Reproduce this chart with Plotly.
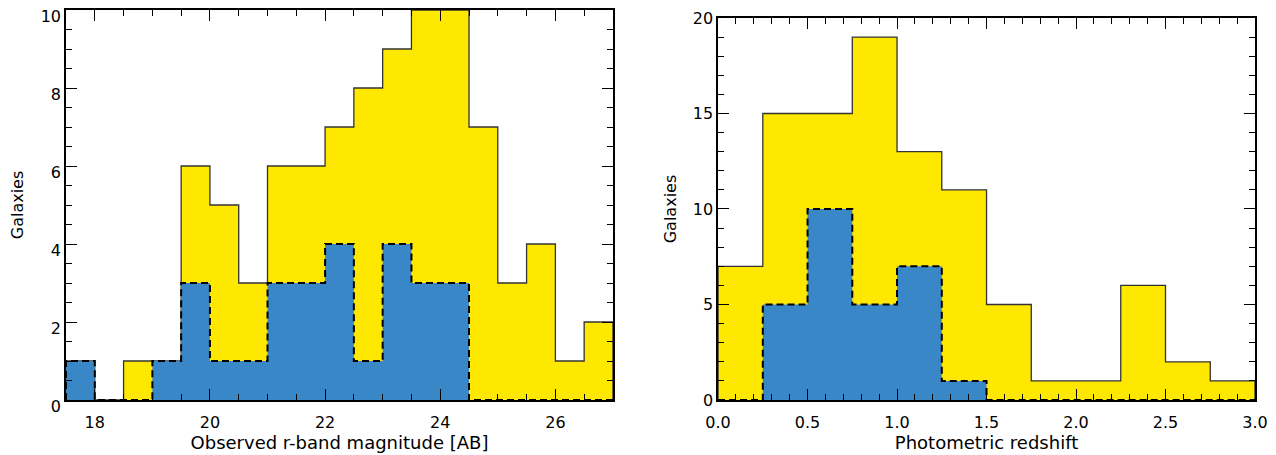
import plotly.graph_objects as go
from plotly.subplots import make_subplots

# r-band magnitude histogram (bin width 0.5, from 17.5 to 27)
mag_edges = [17.5 + 0.5 * i for i in range(20)]
mag_all = [1, 0, 1, 1, 6, 5, 3, 6, 6, 7, 8, 9, 10, 10, 7, 3, 4, 1, 2]
mag_sub = [1, 0, 0, 1, 3, 1, 1, 3, 3, 4, 1, 4, 3, 3, 0, 0, 0, 0, 0]

# photometric redshift histogram (bin width 0.25, from 0 to 3)
z_edges = [0.25 * i for i in range(13)]
z_all = [7, 15, 15, 19, 13, 11, 5, 1, 1, 6, 2, 1]
z_sub = [0, 5, 10, 5, 7, 1, 0, 0, 0, 0, 0, 0]

YELLOW = "#FFE800"
BLUE = "#3A87C8"
FONT = "DejaVu Sans"


def step(edges, counts):
    # outline of a histogram drawn with hv steps, closed down to zero at both ends
    xs = [edges[0]] + list(edges)
    ys = [0] + list(counts) + [0]
    return xs, ys


fig = make_subplots(rows=1, cols=2, horizontal_spacing=0.0885)

for col, edges, tot, sub in [(1, mag_edges, mag_all, mag_sub), (2, z_edges, z_all, z_sub)]:
    x, y = step(edges, tot)
    fig.add_trace(go.Scatter(x=x, y=y, mode="lines", line_shape="hv", fill="tozeroy",
                             fillcolor=YELLOW, line=dict(color="#333333", width=1.3),
                             showlegend=False, hoverinfo="skip"), row=1, col=col)
    x, y = step(edges, sub)
    fig.add_trace(go.Scatter(x=x, y=y, mode="lines", line_shape="hv", fill="tozeroy",
                             fillcolor=BLUE, line=dict(color="black", width=2, dash="7px,4px"),
                             showlegend=False, hoverinfo="skip"), row=1, col=col)

axis_style = dict(showgrid=False, zeroline=False, showline=True, linecolor="black", linewidth=1.5,
                  mirror="allticks", ticks="inside", ticklen=11, tickwidth=1.2, tickcolor="black",
                  automargin=False, ticklabeloverflow="allow",
                  tickfont=dict(family=FONT, size=16, color="black"))

fig.update_xaxes(**axis_style)
fig.update_yaxes(**axis_style)

fig.update_xaxes(range=[17.5, 27], tick0=18, dtick=2,
                 minor=dict(dtick=0.5, ticklen=6, tickcolor="black", ticks="inside"),
                 title=dict(text="Observed r-band magnitude [AB]", font=dict(family=FONT, size=18), standoff=0),
                 ticklabelstandoff=7, row=1, col=1)
# labels nudged down a little so the top one stays on the page
fig.update_yaxes(range=[0, 10], dtick=2, ticklabelshift=6,
                 minor=dict(dtick=0.5, ticklen=6, tickcolor="black", ticks="inside"),
                 title=dict(text="Galaxies", font=dict(family=FONT, size=16), standoff=14),
                 row=1, col=1)
fig.update_xaxes(range=[0, 3], dtick=0.5, tickformat=".1f",
                 minor=dict(dtick=0.1, ticklen=6, tickcolor="black", ticks="inside"),
                 title=dict(text="Photometric redshift", font=dict(family=FONT, size=18), standoff=0),
                 ticklabelstandoff=7, row=1, col=2)
fig.update_yaxes(range=[0, 20], dtick=5,
                 minor=dict(dtick=1, ticklen=6, tickcolor="black", ticks="inside"),
                 title=dict(text="Galaxies", font=dict(family=FONT, size=16), standoff=12),
                 row=1, col=2)

# the page body adds an 8px offset, so the margins are shifted to compensate
fig.update_layout(
    width=1276, height=455,
    margin=dict(l=58, r=29, t=2, b=63),
    plot_bgcolor="white", paper_bgcolor="white",
    font=dict(family=FONT, color="black"),
    xaxis=dict(domain=[0, 0.46]),
    xaxis2=dict(domain=[0.5484, 1]),
    yaxis2=dict(domain=[0, 0.9795]),
)

fig.write_html("out.html")
